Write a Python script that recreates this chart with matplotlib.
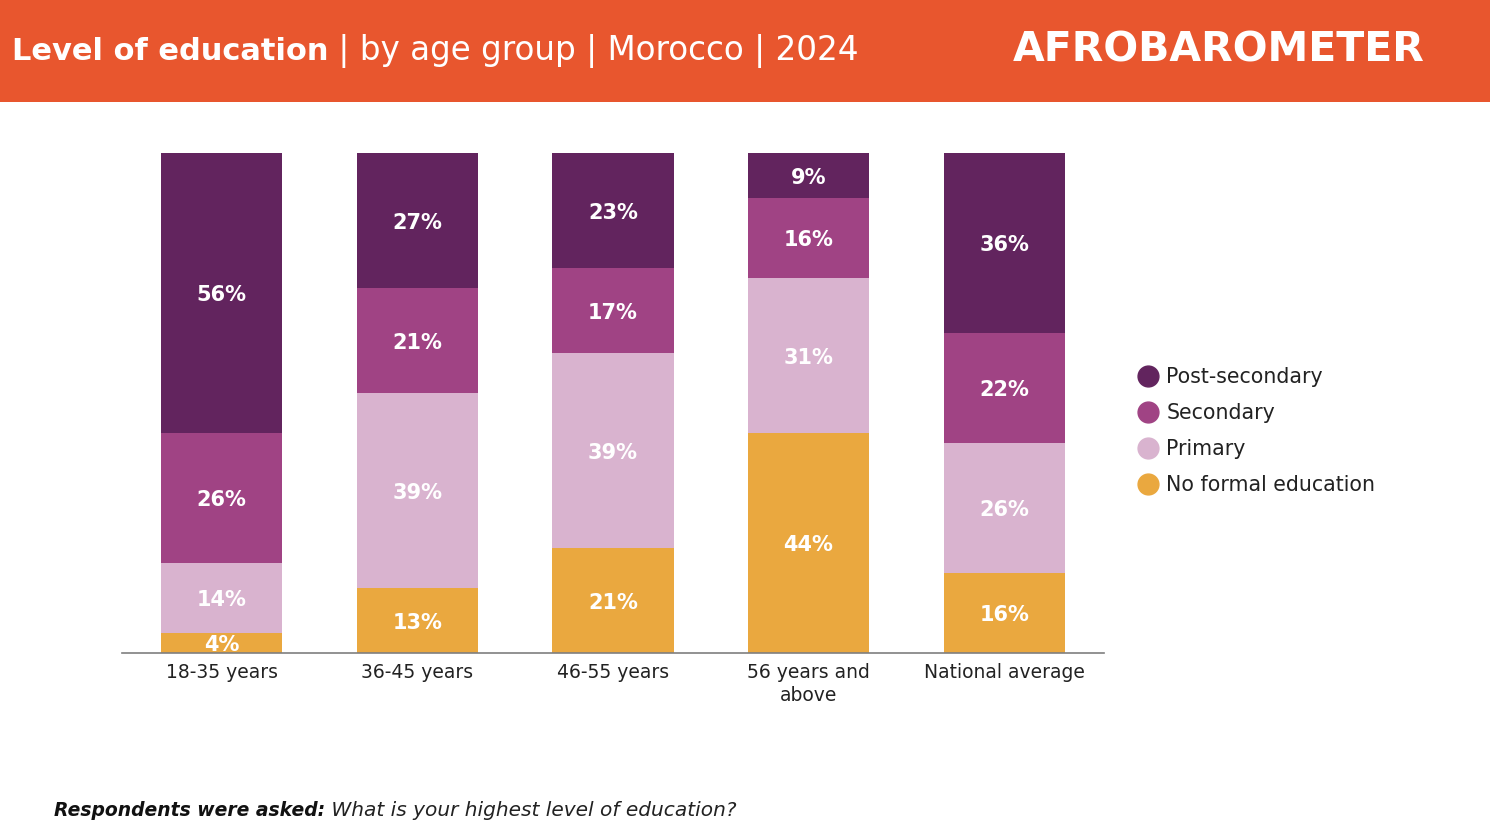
import matplotlib
matplotlib.use("Agg")
import matplotlib.pyplot as plt
from matplotlib.patches import Rectangle
from matplotlib.lines import Line2D
import numpy as np

categories = ["18-35 years", "36-45 years", "46-55 years", "56 years and\nabove", "National average"]
series_names = ["No formal education", "Primary", "Secondary", "Post-secondary"]
no_formal = [4, 13, 21, 44, 16]
primary = [14, 39, 39, 31, 26]
secondary = [26, 21, 17, 16, 22]
post_secondary = [56, 27, 23, 9, 36]
colors = ["#EAA83F", "#D9B3CF", "#A04384", "#62245E"]

plt.rcParams['font.family'] = ['DejaVu Sans']

fig = plt.figure(figsize=(14.9, 8.38), dpi=100)
fig.patch.set_facecolor("white")

ax = fig.add_axes([122/1490, 1 - 653/838, (1104-122)/1490, 500/838])

# header band
fig.add_artist(Rectangle((0, 1 - 102/838), 1, 102/838, transform=fig.transFigure,
                         facecolor="#E8562E", edgecolor="none", zorder=0))
t1 = fig.text(12/1490, 1 - 51/838, "Level of education", color="white", fontsize=22,
              fontweight="bold", va="center", ha="left")
ax.annotate(" | by age group | Morocco | 2024", xy=(1, 0.5), xycoords=t1,
            va="center", ha="left", color="white", fontsize=23.5, fontweight="normal",
            annotation_clip=False)
fig.text(1013/1490, 1 - 50/838, "AFROBAROMETER", color="white", fontsize=29.5,
         fontweight="heavy", va="center", ha="left")

x = np.arange(len(categories))
data = [no_formal, primary, secondary, post_secondary]
bottom = np.zeros(len(categories))
for vals, col, name in zip(data, colors, series_names):
    vals = np.array(vals, dtype=float)
    ax.bar(x, vals, bottom=bottom, width=0.62, color=col, label=name, zorder=2)
    for xi, b, v in zip(x, bottom, vals):
        ax.text(xi, b + v/2 - 0.4, f"{int(v)}%", ha="center", va="center", color="white",
                fontsize=15, fontweight="bold", zorder=3)
    bottom += vals

ax.set_xlim(-0.509, 4.51)
ax.set_ylim(0, 100)
for s in ["top", "right", "left"]:
    ax.spines[s].set_visible(False)
ax.spines["bottom"].set_color("#7f7f7f")
ax.spines["bottom"].set_linewidth(1.2)
ax.set_yticks([])
ax.set_xticks(x)
ax.set_xticklabels(categories, fontsize=13.5, color="#222222", linespacing=1.3)
ax.tick_params(axis="x", length=0, pad=7)

# legend
handles = [Line2D([0], [0], marker="o", linestyle="none", markersize=15,
                  markerfacecolor=c, markeredgecolor=c) for c in colors[::-1]]
fig.legend(handles, series_names[::-1], loc="center left",
           bbox_to_anchor=(1117/1490, 1 - 431/838), frameon=False, fontsize=14.8,
           labelspacing=0.78, handletextpad=0.3, handlelength=1.2, labelcolor="#222222")

# footer
t2 = fig.text(54/1490, 1 - 810/838, "Respondents were asked:", fontsize=13.5,
              fontweight="bold", fontstyle="italic", va="center", ha="left", color="#111111")
ax.annotate(" What is your highest level of education?", xy=(1, 0.5), xycoords=t2,
            va="center", ha="left", fontsize=14.5, fontstyle="italic", color="#222222",
            annotation_clip=False)

fig.savefig("out.png", dpi=100)
